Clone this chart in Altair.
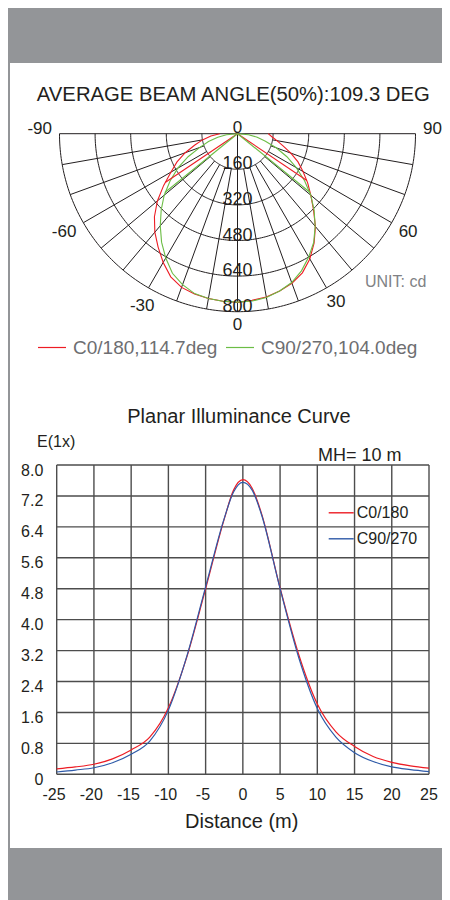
import numpy as np
import pandas as pd
import altair as alt

FONT = "Liberation Sans"
INK = "#231f20"

# ---------------- polar (candela) diagram data ----------------
polar_title = ["AVERAGE BEAM ANGLE(50%):109.3 DEG"]
polar_unit = ["UNIT: cd"]
polar_series = ["C0/180,114.7deg", "C90/270,104.0deg"]
polar_colors = ["#ed1c24", "#6cbd45"]
gamma = [-90, -85, -80, -75, -70, -65, -60, -55, -50, -45, -40, -35, -30, -25, -20, -15, -10, -5, 0,
         5, 10, 15, 20, 25, 30, 35, 40, 45, 50, 55, 60, 65, 70, 75, 80, 85, 90]
cd_c0 = [80, 120, 160, 200, 250, 300, 345, 405, 470, 528, 578, 622, 668, 710, 735, 746, 752, 756, 758,
         752, 745, 732, 715, 690, 650, 600, 545, 483, 430, 385, 340, 300, 255, 212, 180, 155, 138]
cd_c90 = [0, 50, 90, 135, 180, 245, 310, 370, 430, 485, 540, 595, 645, 692, 722, 744, 752, 756, 757,
          755, 748, 732, 712, 680, 640, 597, 543, 487, 430, 368, 305, 245, 185, 130, 90, 50, 0]
chord_gamma_c0 = [-56, 56]
chord_cd_c0 = [392, 376]
chord_gamma_c90 = [-51, 51]
chord_cd_c90 = [420, 418]
ring_cd = [160, 320, 480, 640, 800]
spoke_gamma = [-80, -70, -60, -50, -40, -30, -20, -10, 10, 20, 30, 40, 50, 60, 70, 80]
angle_ticks = [-90, -60, -30, 0, 30, 60, 90]

# ---------------- planar illuminance data ----------------
line_title = ["Planar Illuminance Curve"]
line_ylabel = ["E(1x)"]
line_mh = ["MH= 10 m"]
line_xlabel = ["Distance (m)"]
line_series = ["C0/180", "C90/270"]
line_colors = ["#ed1c24", "#2e5aa8"]
dist = [-25, -22.5, -20, -17.5, -15, -12.5, -10, -7.5, -5, -2.5, -1.25, 0, 1.25, 2.5, 5, 7.5, 10,
        12.5, 15, 17.5, 20, 22.5, 25]
e_c0 = [0.14, 0.19, 0.26, 0.40, 0.63, 0.96, 1.72, 3.05, 4.80, 6.60, 7.35, 7.62, 7.40, 6.75, 4.82,
        3.10, 1.82, 1.10, 0.72, 0.46, 0.31, 0.22, 0.16]
e_c90 = [0.06, 0.11, 0.17, 0.30, 0.52, 0.86, 1.66, 3.07, 4.85, 6.62, 7.30, 7.55, 7.35, 6.72, 4.80,
         3.02, 1.70, 0.96, 0.56, 0.33, 0.19, 0.12, 0.07]
x_ticks = [-25, -20, -15, -10, -5, 0, 5, 10, 15, 20, 25]
y_ticks = [0, 0.8, 1.6, 2.4, 3.2, 4.0, 4.8, 5.6, 6.4, 7.2, 8.0]
y_tick_labels = ["0", "0.8", "1.6", "2.4", "3.2", "4.0", "4.8", "5.6", "6.4", "7.2", "8.0"]

# ---------------- layout ----------------
W = 434
H_TOP, H_POLAR, H_LINE, H_BOT = 55, 327, 458, 52
GRAY = "#939598"
NOVIEW = alt.ViewBackground(strokeWidth=0, strokeOpacity=0)

# polar geometry (pixels inside the polar panel)
R_PX = 178.0
CX, CY = 229.5, 70.7
MAXCD = ring_cd[-1]
K = MAXCD / R_PX  # data units per pixel


def pol(g, r):
    t = np.radians(g)
    return float(r * np.sin(t)), float(r * np.cos(t))


xs = alt.Scale(domain=[-MAXCD, MAXCD], range=[CX - R_PX, CX + R_PX], nice=False, zero=False)
ys = alt.Scale(domain=[0, MAXCD], range=[CY, CY + R_PX], nice=False, zero=False)
X = alt.X("px:Q", scale=xs, axis=None)
Y = alt.Y("py:Q", scale=ys, axis=None)

# rings
rows = []
for v in ring_cd:
    for g in range(-90, 91):
        x, y = pol(g, v)
        rows.append(dict(px=x, py=y, ring=v, o=g))
rings_df = pd.DataFrame(rows)

# spokes
sp = []
for g in spoke_gamma:
    x1, y1 = pol(g, ring_cd[0])
    x2, y2 = pol(g, ring_cd[-1])
    sp.append(dict(px=x1, py=y1, px2=x2, py2=y2))
for g in [-90, 0, 90]:
    x2, y2 = pol(g, ring_cd[-1])
    sp.append(dict(px=0.0, py=0.0, px2=x2, py2=y2))
spokes_df = pd.DataFrame(sp)

# curves
cr = []
for s, vals in zip(polar_series, [cd_c0, cd_c90]):
    for i, (g, v) in enumerate(zip(gamma, vals)):
        x, y = pol(g, v)
        cr.append(dict(px=x, py=y, series=s, key=s + "|curve", o=i))
for s, gs, vs in [(polar_series[0], chord_gamma_c0, chord_cd_c0),
                  (polar_series[1], chord_gamma_c90, chord_cd_c90)]:
    for j, (g, v) in enumerate(zip(gs, vs)):
        x, y = pol(g, v)
        cr.append(dict(px=0.0, py=0.0, series=s, key=f"{s}|chord{j}", o=0))
        cr.append(dict(px=x, py=y, series=s, key=f"{s}|chord{j}", o=1))
curves_df = pd.DataFrame(cr)

# radial labels
rlab_df = pd.DataFrame(dict(px=[0.0] * len(ring_cd), py=[float(v) for v in ring_cd],
                            t=[str(v) for v in ring_cd]))
# angle labels (digits centred on the ray, minus sign hanging to the left)
al = []
for a in angle_ticks:
    if a == 0:
        r_px = 191
    elif abs(a) == 90:
        r_px = 195
    else:
        r_px = 197
    off = -5 if abs(a) == 90 else (-2 if abs(a) == 30 else 0)
    ang = a + (2 if a == -30 else 0)
    x, y = pol(ang, r_px * K)
    shift = -2.8 if a < 0 else 0
    al.append(dict(px=x + shift * K, py=y + off * K, t=str(a)))
al.append(dict(px=0.0, py=-5.5 * K, t="0"))
alab_df = pd.DataFrame(al)

rings = alt.Chart(rings_df).mark_line(color=INK, strokeWidth=1).encode(
    x=X, y=Y, detail="ring:N", order="o:Q")
spokes = alt.Chart(spokes_df).mark_rule(color=INK, strokeWidth=1).encode(
    x=X, y=Y, x2="px2:Q", y2="py2:Q")
curves = alt.Chart(curves_df).mark_line(strokeWidth=1.1).encode(
    x=X, y=Y, detail="key:N", order="o:Q",
    color=alt.Color("series:N", scale=alt.Scale(domain=polar_series, range=polar_colors),
                    legend=alt.Legend(orient="none", legendX=29, legendY=269.5, direction="horizontal",
                                      title=None, symbolType="stroke", symbolSize=784,
                                      symbolStrokeWidth=1.2, labelFontSize=19, labelFont=FONT,
                                      labelColor="#6d6e71", labelOffset=6, columnPadding=5,
                                      padding=0)))
rlabels = alt.Chart(rlab_df).mark_text(font=FONT, fontSize=18, color=INK, align="center",
                                       baseline="alphabetic").encode(x=X, y=Y, text="t:N")
alabels = alt.Chart(alab_df).mark_text(font=FONT, fontSize=17, color=INK, align="center",
                                       baseline="middle").encode(x=X, y=Y, text="t:N")
ptitle = alt.Chart(pd.DataFrame(dict(t=polar_title))).mark_text(
    font=FONT, fontSize=20.3, color=INK, align="center", baseline="alphabetic").encode(
    x=alt.value(225.3), y=alt.value(37.7), text="t:N")
punit = alt.Chart(pd.DataFrame(dict(t=polar_unit))).mark_text(
    font=FONT, fontSize=16, color="#808285", align="left", baseline="alphabetic").encode(
    x=alt.value(357), y=alt.value(223.7), text="t:N")
pedge = alt.Chart(pd.DataFrame(dict(a=[0]))).mark_rule(color=GRAY, strokeWidth=2).encode(
    x=alt.value(1), y=alt.value(0), y2=alt.value(H_POLAR))

polar = alt.layer(pedge, rings, spokes, curves, rlabels, alabels, ptitle, punit).properties(
    width=W, height=H_POLAR, view=NOVIEW)

# ---------------- planar illuminance chart ----------------
PL, PR, PT, PB = 48.7, 421.0, 75.0, 384.3
lxs = alt.Scale(domain=[x_ticks[0], x_ticks[-1]], range=[PL, PR], nice=False, zero=False)
lys = alt.Scale(domain=[y_ticks[0], y_ticks[-1]], range=[PB, PT], nice=False, zero=False)

line_df = pd.DataFrame(dict(
    d=dist * 2, e=e_c0 + e_c90,
    series=[line_series[0]] * len(dist) + [line_series[1]] * len(dist)))
vgrid_df = pd.DataFrame(dict(x=x_ticks, y0=[y_ticks[0]] * len(x_ticks), y1=[y_ticks[-1]] * len(x_ticks)))
hgrid_df = pd.DataFrame(dict(y=y_ticks, x0=[x_ticks[0]] * len(y_ticks), x1=[x_ticks[-1]] * len(y_ticks)))
ylab_df = pd.DataFrame(dict(y=y_ticks, x=[x_ticks[0]] * len(y_ticks), t=y_tick_labels))
xlab_df = pd.DataFrame(dict(x=x_ticks, y=[y_ticks[0]] * len(x_ticks), t=[str(v) for v in x_ticks]))

GRID = "#4d4d4d"
vgrid = alt.Chart(vgrid_df).mark_rule(color=GRID, strokeWidth=1.4).encode(
    x=alt.X("x:Q", scale=lxs, axis=None), y=alt.Y("y0:Q", scale=lys, axis=None), y2="y1:Q")
hgrid = alt.Chart(hgrid_df).mark_rule(color=GRID, strokeWidth=1.4).encode(
    y=alt.Y("y:Q", scale=lys, axis=None), x=alt.X("x0:Q", scale=lxs, axis=None), x2="x1:Q")
lines = alt.Chart(line_df).mark_line(strokeWidth=1.2, interpolate="monotone").encode(
    x=alt.X("d:Q", scale=lxs, axis=None), y=alt.Y("e:Q", scale=lys, axis=None),
    color=alt.Color("series:N", scale=alt.Scale(domain=line_series, range=line_colors),
                    legend=alt.Legend(orient="none", legendX=319.7, legendY=109.3, direction="vertical",
                                      title=None, symbolType="stroke", symbolSize=625,
                                      symbolStrokeWidth=1.4, labelFontSize=16, labelFont=FONT,
                                      labelColor=INK, labelOffset=2, rowPadding=4, padding=0)))
ylabels = alt.Chart(ylab_df).mark_text(font=FONT, fontSize=16, color=INK, align="right",
                                       baseline="middle", dx=-13.4, dy=5.5).encode(
    x=alt.X("x:Q", scale=lxs, axis=None), y=alt.Y("y:Q", scale=lys, axis=None), text="t:N")
xlab_neg = alt.Chart(xlab_df).transform_filter("datum.x < 0").mark_text(
    font=FONT, fontSize=16, color=INK, align="center", baseline="middle", dx=-2.7, dy=20.7).encode(
    x=alt.X("x:Q", scale=lxs, axis=None), y=alt.Y("y:Q", scale=lys, axis=None), text="t:N")
xlab_pos = alt.Chart(xlab_df).transform_filter("datum.x >= 0").mark_text(
    font=FONT, fontSize=16, color=INK, align="center", baseline="middle", dy=20.7).encode(
    x=alt.X("x:Q", scale=lxs, axis=None), y=alt.Y("y:Q", scale=lys, axis=None), text="t:N")
ltitle = alt.Chart(pd.DataFrame(dict(t=line_title))).mark_text(
    font=FONT, fontSize=20, color=INK, align="center", baseline="alphabetic").encode(
    x=alt.value(231), y=alt.value(33.3), text="t:N")
lylabel = alt.Chart(pd.DataFrame(dict(t=line_ylabel))).mark_text(
    font=FONT, fontSize=16, color=INK, align="left", baseline="alphabetic").encode(
    x=alt.value(29), y=alt.value(56.7), text="t:N")
lmh = alt.Chart(pd.DataFrame(dict(t=line_mh))).mark_text(
    font=FONT, fontSize=18, color=INK, align="left", baseline="alphabetic").encode(
    x=alt.value(310), y=alt.value(70.7), text="t:N")
lxlabel = alt.Chart(pd.DataFrame(dict(t=line_xlabel))).mark_text(
    font=FONT, fontSize=20, color=INK, align="center", baseline="alphabetic").encode(
    x=alt.value(233.7), y=alt.value(438.3), text="t:N")
ledge = alt.Chart(pd.DataFrame(dict(a=[0]))).mark_rule(color=GRAY, strokeWidth=2).encode(
    x=alt.value(1), y=alt.value(0), y2=alt.value(H_LINE))

linechart = alt.layer(ledge, vgrid, hgrid, lines, ylabels, xlab_neg, xlab_pos, ltitle, lylabel, lmh,
                      lxlabel).properties(width=W, height=H_LINE, view=NOVIEW)

# ---------------- gray bands ----------------
top = alt.Chart(pd.DataFrame(dict(a=[0]))).mark_rect(color=GRAY).encode(
    x=alt.value(0), x2=alt.value(W), y=alt.value(0), y2=alt.value(H_TOP)).properties(
    width=W, height=H_TOP, view=NOVIEW)
bottom = alt.Chart(pd.DataFrame(dict(a=[0]))).mark_rect(color=GRAY).encode(
    x=alt.value(0), x2=alt.value(W), y=alt.value(0), y2=alt.value(H_BOT)).properties(
    width=W, height=H_BOT, view=NOVIEW)

chart = alt.vconcat(top, polar, linechart, bottom, spacing=0, bounds="flush").resolve_scale(
    x="independent", y="independent", color="independent").properties(
    padding=0, background="white").configure_view(strokeWidth=0, strokeOpacity=0).configure(font=FONT)

chart.save("out.html", embed_options={"renderer": "svg", "actions": False})
